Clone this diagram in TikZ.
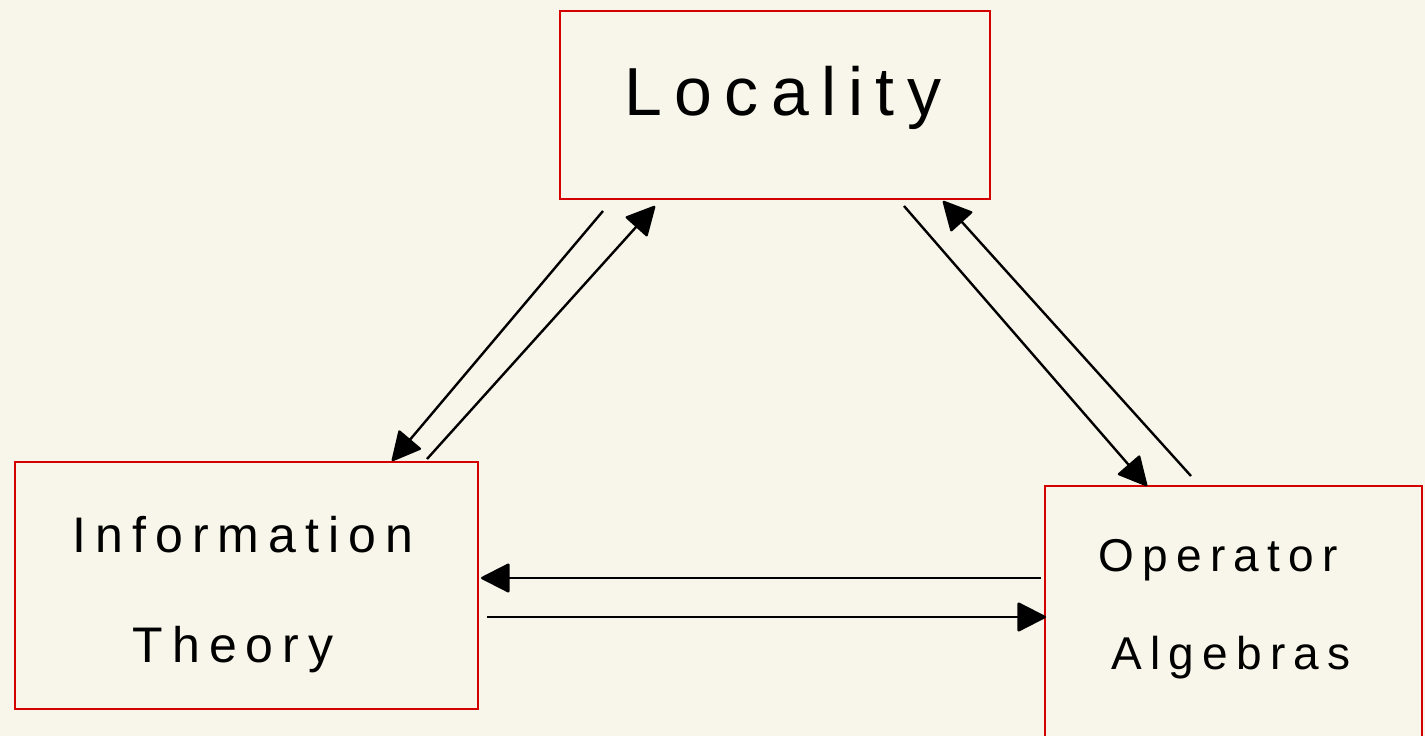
\documentclass[tikz,border=0pt]{standalone}
\usepackage{fontspec}
\newfontfamily\hand[LetterSpace=18]{Liberation Sans}
\usetikzlibrary{arrows.meta,calc}
\definecolor{bg}{HTML}{F8F6EA}
\definecolor{boxred}{HTML}{D40000}
\tikzset{
  box/.style={draw=boxred,line width=2pt,inner sep=0pt},
  lbl/.style={font=\hand,text=black,inner sep=0pt},
  link/.style={draw=black,line width=2.4pt,-{Triangle[length=30pt,width=30pt,round]}}
}
\begin{document}
\begin{tikzpicture}[x=1pt,y=-1pt]
\fill[bg] (0,0) rectangle (1425,736);
\useasboundingbox (0,0) rectangle (1425,736);
\clip (0,0) rectangle (1425,736);
% boxes
\node[box,minimum width=430pt,minimum height=188pt] (loc) at (775,105) {};
\node[box,minimum width=463pt,minimum height=247pt] (inf) at (246.5,585.5) {};
\node[box,minimum width=377pt,minimum height=300pt] (opa) at (1233.5,636) {};
% labels
\node[lbl,font=\hand\fontsize{68}{72}\selectfont] (tloc) at (783,98) {Locality};
\node[lbl,font=\hand\fontsize{50}{54}\selectfont] (tinf1) at (243,535) {Information};
\node[lbl,font=\hand\fontsize{50}{54}\selectfont] (tinf2) at (233,650) {Theory};
\node[lbl,font=\hand\fontsize{46}{50}\selectfont] (topa1) at (1218,560) {Operator};
\node[lbl,font=\hand\fontsize{46}{50}\selectfont] (topa2) at (1231,658) {Algebras};
% connectors
\draw[link] ($(loc.south west)+(44,11)$) -- ($(inf.north west)+(378,0)$);
\draw[link] ($(inf.north west)+(413,-2)$) -- ($(loc.south west)+(96,6)$);
\draw[link] ($(loc.south east)+(-87,6)$) -- ($(opa.north west)+(103,1)$);
\draw[link] ($(opa.north west)+(147,-9)$) -- ($(loc.south east)+(-48,1)$);
\draw[link] ($(opa.north west)+(-3,93)$) -- ($(inf.north east)+(2,117)$);
\draw[link] ($(inf.north east)+(8,156)$) -- ($(opa.north west)+(2,132)$);
\end{tikzpicture}
\end{document}
